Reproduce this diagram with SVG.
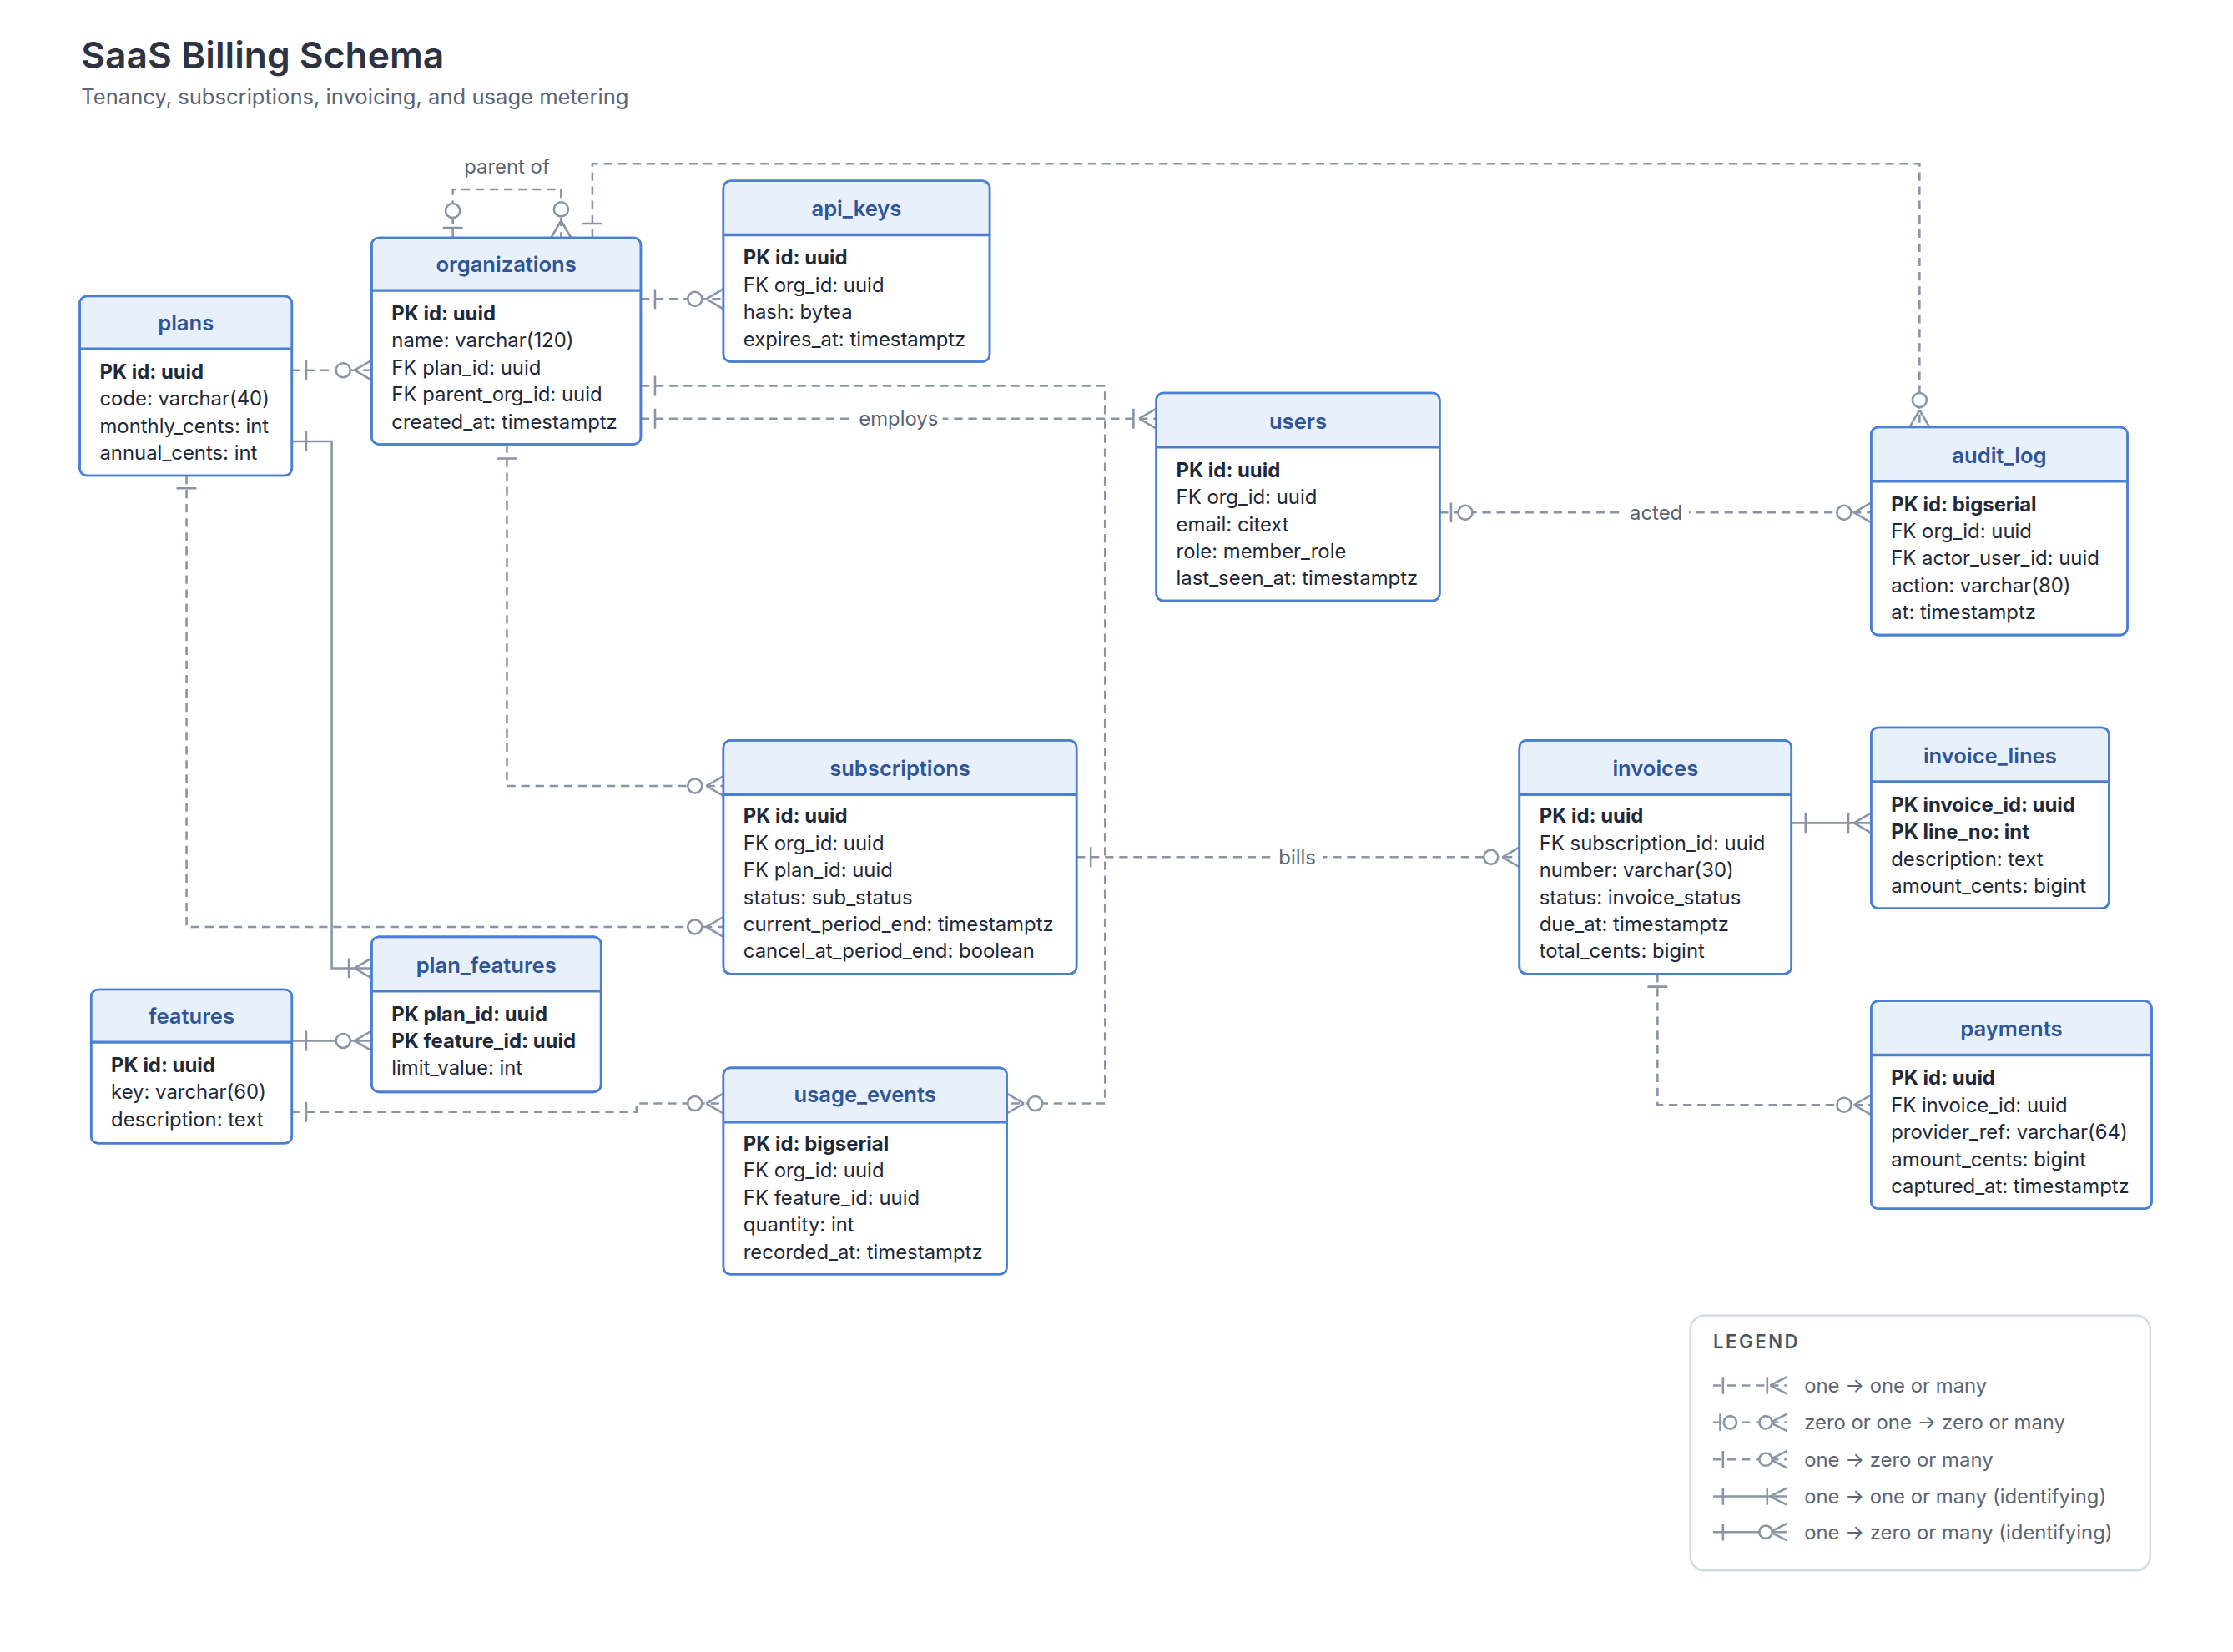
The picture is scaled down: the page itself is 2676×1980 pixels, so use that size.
<svg xmlns="http://www.w3.org/2000/svg" width="2676" height="1980" viewBox="0 0 2676 1980">
<style>
.bx{fill:#fff;stroke:#4a7fd4;stroke-width:1.5}
.hd{fill:#e8f0fc}
.sep{stroke:#4a7fd4;stroke-width:2}
.nt{font-family:Inter,"Noto Sans",sans-serif;font-size:15px;font-weight:600;fill:#2f5597;text-anchor:middle}
.r{font-family:Inter,"Noto Sans",sans-serif;font-size:14px;fill:#1f2937}
.pk{font-weight:700}
.c{fill:none;stroke:#8a94a6;stroke-width:1.5}
.d{stroke-dasharray:6 4}
.m{fill:none;stroke:#8a94a6;stroke-width:1.5}
.o{fill:#fff;stroke:#8a94a6;stroke-width:1.5}
.lb{font-family:Inter,"Noto Sans",sans-serif;font-size:14px;fill:#5b6573;text-anchor:middle}
.lg{font-family:Inter,"Noto Sans",sans-serif;font-size:14px;fill:#5b6573}
</style>
<rect width="2676" height="1980" fill="#fff"/>
<g transform="scale(1.7065)">
<text x="57" y="48" font-family="Inter,'Noto Sans',sans-serif" font-size="26" font-weight="600" fill="#2d3340">SaaS Billing Schema</text>
<text x="57" y="73" font-family="Inter,'Noto Sans',sans-serif" font-size="15" fill="#5b6573">Tenancy, subscriptions, invoicing, and usage metering</text>

<g id="connectors">
<path class="c d" d="M205 260H261"/><path class="m" d="M215 253V267M249 260L261 253M249 260L261 267"/><circle class="o" cx="241" cy="260" r="5"/>
<path class="c d" d="M450 210H508"/><path class="m" d="M460 203V217M496 210L508 203M496 210L508 217"/><circle class="o" cx="488" cy="210" r="5"/>
<path class="c d" d="M318 167V133H394V167"/><path class="m" d="M311 160H325M394 155L387 167M394 155L401 167"/><circle class="o" cx="318" cy="148" r="5"/><circle class="o" cx="394" cy="147" r="5"/>
<text class="lb" x="356" y="122">parent of</text>
<path class="c d" d="M416 167V115H1348V300"/><path class="m" d="M409 157H423M1348 288L1341 300M1348 288L1355 300"/><circle class="o" cx="1348" cy="281" r="5"/>
<path class="c d" d="M450 294H812"/><path class="m" d="M460 287V301M796 287V301M800 294L812 287M800 294L812 301"/>
<rect x="600" y="284" width="62" height="20" fill="#fff"/><text class="lb" x="631" y="299">employs</text>
<path class="c d" d="M450 271H776V775H707"/><path class="m" d="M460 264V278M719 775L707 768M719 775L707 782"/><circle class="o" cx="727" cy="775" r="5"/>
<path class="c d" d="M356 312V552H508"/><path class="m" d="M349 322H363M496 552L508 545M496 552L508 559"/><circle class="o" cx="488" cy="552" r="5"/>
<path class="c d" d="M131 334V651H508"/><path class="m" d="M124 343H138M496 651L508 644M496 651L508 658"/><circle class="o" cx="488" cy="651" r="5"/>
<path class="c" d="M205 310H233V680H261"/><path class="m" d="M215 303V317M245 673V687M249 680L261 673M249 680L261 687"/>
<path class="c" d="M205 731H261"/><path class="m" d="M215 724V738M249 731L261 724M249 731L261 738"/><circle class="o" cx="241" cy="731" r="5"/>
<path class="c d" d="M205 781H447V775H508"/><path class="m" d="M215 774V788M496 775L508 768M496 775L508 782"/><circle class="o" cx="488" cy="775" r="5"/>
<path class="c d" d="M1011 360H1314"/><path class="m" d="M1019 353V367M1302 360L1314 353M1302 360L1314 367"/><circle class="o" cx="1029" cy="360" r="5"/><circle class="o" cx="1295" cy="360" r="5"/>
<rect x="1140" y="350" width="46" height="20" fill="#fff"/><text class="lb" x="1163" y="365">acted</text>
<path class="c d" d="M756 602H1067"/><path class="m" d="M766 595V609M1055 602L1067 595M1055 602L1067 609"/><circle class="o" cx="1047" cy="602" r="5"/>
<rect x="893" y="592" width="36" height="20" fill="#fff"/><text class="lb" x="911" y="607">bills</text>
<path class="c" d="M1258 578H1314"/><path class="m" d="M1268 571V585M1298 571V585M1302 578L1314 571M1302 578L1314 585"/>
<path class="c d" d="M1164 684V776H1314"/><path class="m" d="M1157 693H1171M1302 776L1314 769M1302 776L1314 783"/><circle class="o" cx="1295" cy="776" r="5"/>
</g>

<g id="plans">
<rect class="bx" x="56" y="208" width="149" height="126" rx="5"/>
<path class="hd" d="M57 245V213a4 4 0 0 1 4-4H200a4 4 0 0 1 4 4V245Z"/>
<rect x="56" y="208" width="149" height="126" rx="5" fill="none" stroke="#4a7fd4" stroke-width="1.5"/>
<path class="sep" d="M56 245H205"/>
<text class="nt" x="130.5" y="232">plans</text>
<text class="r pk" x="70" y="266">PK id: uuid</text>
<text class="r" x="70" y="285">code: varchar(40)</text>
<text class="r" x="70" y="304">monthly_cents: int</text>
<text class="r" x="70" y="323">annual_cents: int</text>
</g>

<g id="organizations">
<rect class="bx" x="261" y="167" width="189" height="145" rx="5"/>
<path class="hd" d="M262 204V172a4 4 0 0 1 4-4H445a4 4 0 0 1 4 4V204Z"/>
<rect x="261" y="167" width="189" height="145" rx="5" fill="none" stroke="#4a7fd4" stroke-width="1.5"/>
<path class="sep" d="M261 204H450"/>
<text class="nt" x="355.5" y="191">organizations</text>
<text class="r pk" x="275" y="225">PK id: uuid</text>
<text class="r" x="275" y="244">name: varchar(120)</text>
<text class="r" x="275" y="263">FK plan_id: uuid</text>
<text class="r" x="275" y="282">FK parent_org_id: uuid</text>
<text class="r" x="275" y="301">created_at: timestamptz</text>
</g>

<g id="api_keys">
<rect class="bx" x="508" y="127" width="187" height="127" rx="5"/>
<path class="hd" d="M509 165V132a4 4 0 0 1 4-4H690a4 4 0 0 1 4 4V165Z"/>
<rect x="508" y="127" width="187" height="127" rx="5" fill="none" stroke="#4a7fd4" stroke-width="1.5"/>
<path class="sep" d="M508 165H695"/>
<text class="nt" x="601.5" y="152">api_keys</text>
<text class="r pk" x="522" y="186">PK id: uuid</text>
<text class="r" x="522" y="205">FK org_id: uuid</text>
<text class="r" x="522" y="224">hash: bytea</text>
<text class="r" x="522" y="243">expires_at: timestamptz</text>
</g>

<g id="users">
<rect class="bx" x="812" y="276" width="199" height="146" rx="5"/>
<path class="hd" d="M813 314V281a4 4 0 0 1 4-4H1006a4 4 0 0 1 4 4V314Z"/>
<rect x="812" y="276" width="199" height="146" rx="5" fill="none" stroke="#4a7fd4" stroke-width="1.5"/>
<path class="sep" d="M812 314H1011"/>
<text class="nt" x="911.5" y="301">users</text>
<text class="r pk" x="826" y="335">PK id: uuid</text>
<text class="r" x="826" y="354">FK org_id: uuid</text>
<text class="r" x="826" y="373">email: citext</text>
<text class="r" x="826" y="392">role: member_role</text>
<text class="r" x="826" y="411">last_seen_at: timestamptz</text>
</g>

<g id="audit_log">
<rect class="bx" x="1314" y="300" width="180" height="146" rx="5"/>
<path class="hd" d="M1315 338V305a4 4 0 0 1 4-4H1489a4 4 0 0 1 4 4V338Z"/>
<rect x="1314" y="300" width="180" height="146" rx="5" fill="none" stroke="#4a7fd4" stroke-width="1.5"/>
<path class="sep" d="M1314 338H1494"/>
<text class="nt" x="1404" y="325">audit_log</text>
<text class="r pk" x="1328" y="359">PK id: bigserial</text>
<text class="r" x="1328" y="378">FK org_id: uuid</text>
<text class="r" x="1328" y="397">FK actor_user_id: uuid</text>
<text class="r" x="1328" y="416">action: varchar(80)</text>
<text class="r" x="1328" y="435">at: timestamptz</text>
</g>

<g id="subscriptions">
<rect class="bx" x="508" y="520" width="248" height="164" rx="5"/>
<path class="hd" d="M509 558V525a4 4 0 0 1 4-4H751a4 4 0 0 1 4 4V558Z"/>
<rect x="508" y="520" width="248" height="164" rx="5" fill="none" stroke="#4a7fd4" stroke-width="1.5"/>
<path class="sep" d="M508 558H756"/>
<text class="nt" x="632" y="545">subscriptions</text>
<text class="r pk" x="522" y="578">PK id: uuid</text>
<text class="r" x="522" y="597">FK org_id: uuid</text>
<text class="r" x="522" y="616">FK plan_id: uuid</text>
<text class="r" x="522" y="635">status: sub_status</text>
<text class="r" x="522" y="654">current_period_end: timestamptz</text>
<text class="r" x="522" y="673">cancel_at_period_end: boolean</text>
</g>

<g id="invoices">
<rect class="bx" x="1067" y="520" width="191" height="164" rx="5"/>
<path class="hd" d="M1068 558V525a4 4 0 0 1 4-4H1253a4 4 0 0 1 4 4V558Z"/>
<rect x="1067" y="520" width="191" height="164" rx="5" fill="none" stroke="#4a7fd4" stroke-width="1.5"/>
<path class="sep" d="M1067 558H1258"/>
<text class="nt" x="1162.5" y="545">invoices</text>
<text class="r pk" x="1081" y="578">PK id: uuid</text>
<text class="r" x="1081" y="597">FK subscription_id: uuid</text>
<text class="r" x="1081" y="616">number: varchar(30)</text>
<text class="r" x="1081" y="635">status: invoice_status</text>
<text class="r" x="1081" y="654">due_at: timestamptz</text>
<text class="r" x="1081" y="673">total_cents: bigint</text>
</g>

<g id="invoice_lines">
<rect class="bx" x="1314" y="511" width="167" height="127" rx="5"/>
<path class="hd" d="M1315 549V516a4 4 0 0 1 4-4H1476a4 4 0 0 1 4 4V549Z"/>
<rect x="1314" y="511" width="167" height="127" rx="5" fill="none" stroke="#4a7fd4" stroke-width="1.5"/>
<path class="sep" d="M1314 549H1481"/>
<text class="nt" x="1397.5" y="536">invoice_lines</text>
<text class="r pk" x="1328" y="570">PK invoice_id: uuid</text>
<text class="r pk" x="1328" y="589">PK line_no: int</text>
<text class="r" x="1328" y="608">description: text</text>
<text class="r" x="1328" y="627">amount_cents: bigint</text>
</g>

<g id="payments">
<rect class="bx" x="1314" y="703" width="197" height="146" rx="5"/>
<path class="hd" d="M1315 741V708a4 4 0 0 1 4-4H1506a4 4 0 0 1 4 4V741Z"/>
<rect x="1314" y="703" width="197" height="146" rx="5" fill="none" stroke="#4a7fd4" stroke-width="1.5"/>
<path class="sep" d="M1314 741H1511"/>
<text class="nt" x="1412.5" y="728">payments</text>
<text class="r pk" x="1328" y="762">PK id: uuid</text>
<text class="r" x="1328" y="781">FK invoice_id: uuid</text>
<text class="r" x="1328" y="800">provider_ref: varchar(64)</text>
<text class="r" x="1328" y="819">amount_cents: bigint</text>
<text class="r" x="1328" y="838">captured_at: timestamptz</text>
</g>

<g id="plan_features">
<rect class="bx" x="261" y="658" width="161" height="109" rx="5"/>
<path class="hd" d="M262 696V663a4 4 0 0 1 4-4H417a4 4 0 0 1 4 4V696Z"/>
<rect x="261" y="658" width="161" height="109" rx="5" fill="none" stroke="#4a7fd4" stroke-width="1.5"/>
<path class="sep" d="M261 696H422"/>
<text class="nt" x="341.5" y="683">plan_features</text>
<text class="r pk" x="275" y="717">PK plan_id: uuid</text>
<text class="r pk" x="275" y="736">PK feature_id: uuid</text>
<text class="r" x="275" y="755">limit_value: int</text>
</g>

<g id="features">
<rect class="bx" x="64" y="695" width="141" height="108" rx="5"/>
<path class="hd" d="M65 732V700a4 4 0 0 1 4-4H200a4 4 0 0 1 4 4V732Z"/>
<rect x="64" y="695" width="141" height="108" rx="5" fill="none" stroke="#4a7fd4" stroke-width="1.5"/>
<path class="sep" d="M64 732H205"/>
<text class="nt" x="134.5" y="719">features</text>
<text class="r pk" x="78" y="753">PK id: uuid</text>
<text class="r" x="78" y="772">key: varchar(60)</text>
<text class="r" x="78" y="791">description: text</text>
</g>

<g id="usage_events">
<rect class="bx" x="508" y="750" width="199" height="145" rx="5"/>
<path class="hd" d="M509 788V755a4 4 0 0 1 4-4H702a4 4 0 0 1 4 4V788Z"/>
<rect x="508" y="750" width="199" height="145" rx="5" fill="none" stroke="#4a7fd4" stroke-width="1.5"/>
<path class="sep" d="M508 788H707"/>
<text class="nt" x="607.5" y="774">usage_events</text>
<text class="r pk" x="522" y="808">PK id: bigserial</text>
<text class="r" x="522" y="827">FK org_id: uuid</text>
<text class="r" x="522" y="846">FK feature_id: uuid</text>
<text class="r" x="522" y="865">quantity: int</text>
<text class="r" x="522" y="884">recorded_at: timestamptz</text>
</g>

<g id="legend">
<rect x="1187" y="924" width="323" height="179" rx="10" fill="#fff" stroke="#d6dbe2" stroke-width="1.5"/>
<text x="1203" y="947" font-family="Inter,'Noto Sans',sans-serif" font-size="13" font-weight="600" letter-spacing="1.5" fill="#4b5563">LEGEND</text>
<path class="c d" d="M1203 973H1255"/><path class="m" d="M1210 967V979M1241 967V979M1243 973L1255 967M1243 973L1255 979"/>
<text class="lg" x="1267" y="978">one → one or many</text>
<path class="c d" d="M1203 999H1255"/><path class="m" d="M1208 993V1005M1243 999L1255 993M1243 999L1255 1005"/><circle class="o" cx="1215" cy="999" r="4.5"/><circle class="o" cx="1240" cy="999" r="4.5"/>
<text class="lg" x="1267" y="1004">zero or one → zero or many</text>
<path class="c d" d="M1203 1025H1255"/><path class="m" d="M1210 1019V1031M1243 1025L1255 1019M1243 1025L1255 1031"/><circle class="o" cx="1240" cy="1025" r="4.5"/>
<text class="lg" x="1267" y="1030">one → zero or many</text>
<path class="c" d="M1203 1051H1255"/><path class="m" d="M1210 1045V1057M1241 1045V1057M1243 1051L1255 1045M1243 1051L1255 1057"/>
<text class="lg" x="1267" y="1056">one → one or many (identifying)</text>
<path class="c" d="M1203 1076H1255"/><path class="m" d="M1210 1070V1082M1243 1076L1255 1070M1243 1076L1255 1082"/><circle class="o" cx="1240" cy="1076" r="4.5"/>
<text class="lg" x="1267" y="1081">one → zero or many (identifying)</text>
</g>
</g>
</svg>
